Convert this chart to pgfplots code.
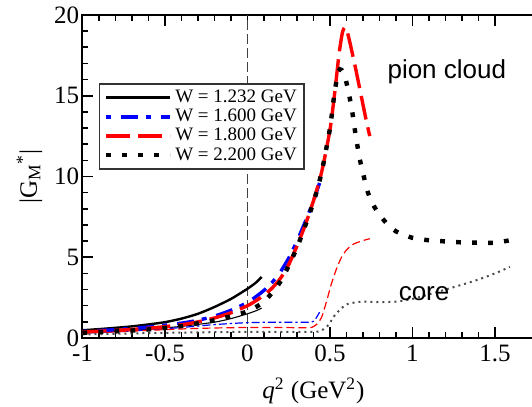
\documentclass[border=0pt]{standalone}
\usepackage{pgfplots}
\pgfplotsset{compat=1.18}
\usepackage{fontspec}
\setmainfont{Liberation Serif}
\newfontfamily\arialfont{Liberation Sans}
\begin{document}
\begin{tikzpicture}
\begin{axis}[
  at={(0,0)}, anchor=south west,
  scale only axis, width=231pt, height=161.5pt,
  xmin=-1, xmax=1.8, ymin=0, ymax=20,
  xtick={-1,-0.5,0,0.5,1,1.5}, xticklabels={-1,-0.5,0,0.5,1,1.5},
  ytick={0,5,10,15,20}, yticklabels={0,5,10,15,20},
  minor x tick num=4, minor y tick num=4,
  major tick length=5.5pt, minor tick length=3pt,
  every tick/.style={black, line width=0.8pt},
  axis line style={line width=1pt},
  tick label style={font=\fontsize{12.5}{12.5}\selectfont},
  yticklabel style={inner xsep=1.5pt},
  xticklabel style={inner ysep=3.3pt},
  every axis y label/.style={at={(axis description cs:-0.115,0.5)}, rotate=90, anchor=center, font=\fontsize{12.5}{12.5}\selectfont},
  every axis x label/.style={at={(axis description cs:0.5,-0.186)}, anchor=base, font=\fontsize{12.5}{12.5}\selectfont},
  ylabel={|G\textsubscript{M}\textsuperscript{*}|},
  xlabel={\textit{q}\textsuperscript{2} (GeV\textsuperscript{2})},
  legend image code/.code={\draw[#1] (0pt,0pt) -- (32pt,0pt);},
  legend cell align=left,
  legend style={at={(axis cs:-0.9,15.77)}, anchor=north west, draw=black!80, line width=0.7pt, inner sep=2pt, font=\fontsize{9.5}{9.5}\selectfont, nodes={inner ysep=0.9pt, inner xsep=1.6pt}, row sep=0pt},
]
% vertical dashed line
\addplot[forget plot, black!75, line width=0.6pt, dash pattern=on 5pt off 2pt] coordinates {(0,0) (0,20)};
% thin (core) curves
\addplot[forget plot, black, line width=0.55pt, smooth, tension=0.4] table {
-1 0.33
-0.8 0.42
-0.6 0.54
-0.4 0.72
-0.2 0.98
-0.1 1.2
0 1.5
0.05 1.68
0.086 1.85
};
\addplot[forget plot, blue, line width=0.6pt, smooth, tension=0.4, dash pattern=on 1.2pt off 1.5pt on 4pt off 1.5pt] table {
-1 0.3
-0.8 0.38
-0.6 0.5
-0.4 0.65
-0.2 0.83
0 0.95
0.2 0.98
0.38 0.98
0.41 1.15
0.437 1.6
};
\addplot[forget plot, red, line width=0.6pt, smooth, tension=0.4, dash pattern=on 4pt off 2pt] table {
-1 0.3
-0.8 0.38
-0.6 0.47
-0.4 0.56
-0.2 0.62
0 0.65
0.2 0.65
0.35 0.63
0.39 0.66
0.42 0.85
0.45 1.3
0.48 2.3
0.51 3.4
0.54 4.3
0.57 5.0
0.60 5.45
0.64 5.8
0.69 6.0
0.741 6.15
};
\addplot[forget plot, black!70, line width=1pt, smooth, tension=0.4, dash pattern=on 1pt off 2pt] table {
-1 0.22
-0.5 0.32
0 0.38
0.4 0.38
0.45 0.48
0.49 0.8
0.525 1.35
0.565 1.8
0.6 2.08
0.65 2.2
0.7 2.25
0.8 2.22
0.9 2.25
1.0 2.42
1.1 2.7
1.2 3.0
1.3 3.3
1.4 3.62
1.5 4.0
1.59 4.4
};
% thick (pion cloud) curves
\addplot[black, line width=1.2pt, smooth, tension=0.4] table {
-1 0.48
-0.9 0.55
-0.8 0.63
-0.7 0.72
-0.6 0.84
-0.5 0.98
-0.4 1.2
-0.3 1.5
-0.2 1.92
-0.1 2.42
0 3.05
0.05 3.42
0.086 3.78
};
\addlegendentry{W = 1.232 GeV}
\addplot[blue, line width=1.7pt, smooth, tension=0.4, dash pattern=on 2.5pt off 5pt on 8.5pt off 4pt] table {
-1 0.4
-0.8 0.52
-0.6 0.68
-0.4 0.92
-0.3 1.1
-0.2 1.35
-0.1 1.72
0 2.2
0.05 2.55
0.1 2.95
0.15 3.45
0.2 4.1
0.25 4.95
0.3 6.0
0.35 7.2
0.4 8.5
0.437 9.6
};
\addlegendentry{W = 1.600 GeV}
\addplot[red, line width=1.7pt, smooth, tension=0.4, dash pattern=on 12pt off 4pt] table {
-1 0.37
-0.8 0.47
-0.6 0.6
-0.4 0.82
-0.3 1.0
-0.2 1.24
-0.1 1.56
0 2.0
0.05 2.3
0.1 2.65
0.15 3.1
0.2 3.7
0.25 4.55
0.3 5.7
0.35 7.0
0.4 8.5
0.45 10.3
0.5 12.9
0.53 15.3
0.555 17.6
0.575 18.9
0.59 19.25
0.605 18.95
0.625 18.1
0.655 16.7
0.685 15.2
0.715 13.7
0.741 12.5
};
\addlegendentry{W = 1.800 GeV}
\addplot[black, line width=2.2pt, smooth, tension=0.4, dash pattern=on 2.4pt off 5.6pt] table {
-1 0.32
-0.8 0.41
-0.6 0.53
-0.4 0.74
-0.2 1.1
-0.1 1.35
0 1.65
0.1 2.25
0.2 3.5
0.3 5.6
0.4 8.4
0.45 10.3
0.5 13.0
0.525 15.0
0.55 16.5
0.57 16.6
0.595 16.0
0.615 15.1
0.635 14.0
0.655 12.6
0.68 11.1
0.705 10.0
0.73 9.0
0.77 8.1
0.83 7.25
0.9 6.6
1.0 6.2
1.1 6.05
1.2 5.98
1.3 5.92
1.4 5.9
1.5 5.9
1.59 6.05
};
\addlegendentry{W = 2.200 GeV}
\node[font=\arialfont\fontsize{13}{13}\selectfont, anchor=base] at (axis cs:1.208,16.08) {pion cloud};
\node[font=\arialfont\fontsize{13}{13}\selectfont, anchor=base] at (axis cs:1.07,2.35) {core};
\end{axis}
\pgfresetboundingbox
\path[use as bounding box] (-41.25pt,-34.5pt) rectangle (224.75pt,169pt);
\end{tikzpicture}
\end{document}
